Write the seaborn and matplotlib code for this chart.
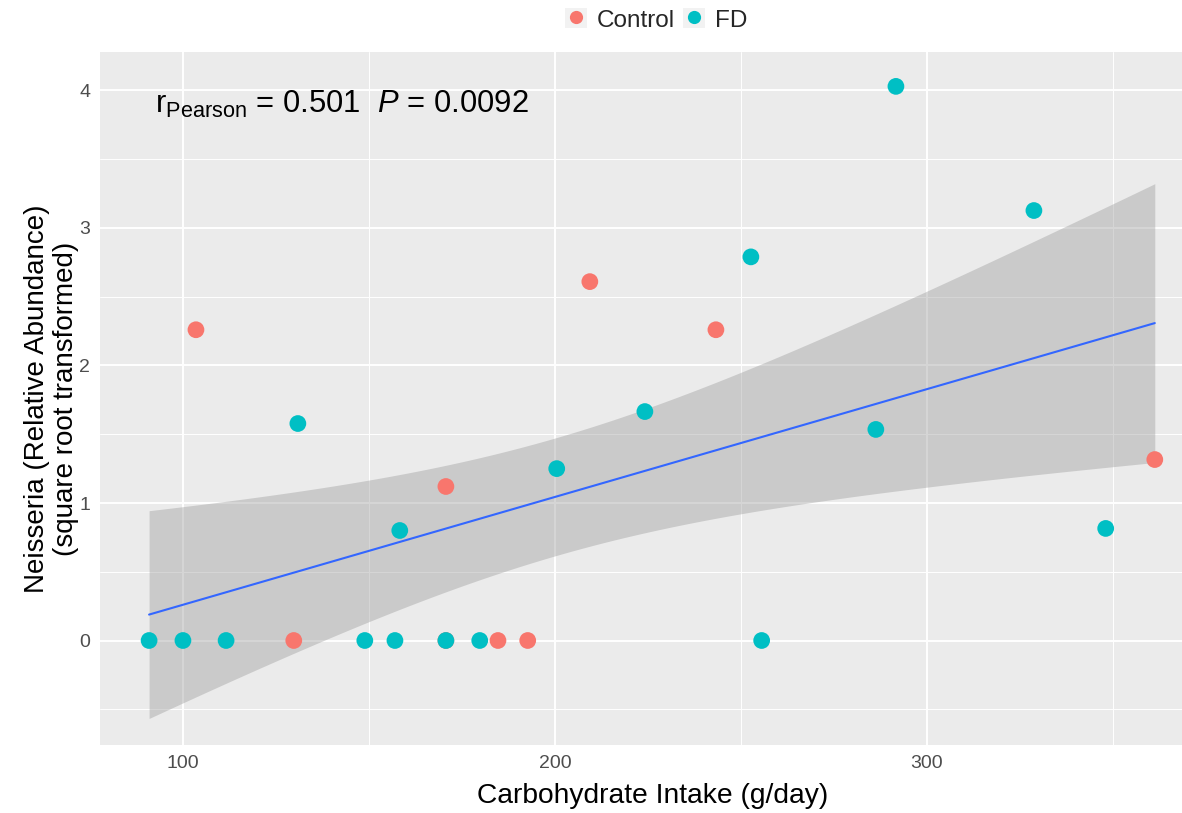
import numpy as np
import pandas as pd
import matplotlib
matplotlib.use("Agg")
import matplotlib.pyplot as plt
import seaborn as sns
from matplotlib.ticker import MultipleLocator
from matplotlib.patches import Rectangle
from matplotlib.lines import Line2D
from matplotlib.legend_handler import HandlerTuple

# Carbohydrate intake (g/day) vs Neisseria abundance (sqrt-transformed)
control_carb = [103.5, 129.8, 170.7, 170.7, 184.7, 192.7, 209.4, 243.3, 361.3]
control_neis = [2.26, 0.0, 1.12, 0.0, 0.0, 0.0, 2.61, 2.26, 1.316]
fd_carb = [90.9, 100.0, 111.6, 130.9, 148.9, 157.0, 158.3, 170.7, 179.8,
           200.5, 224.2, 252.7, 255.6, 286.3, 291.7, 328.8, 348.1]
fd_neis = [0.0, 0.0, 0.0, 1.578, 0.0, 0.0, 0.80, 0.0, 0.0,
           1.25, 1.665, 2.79, 0.0, 1.535, 4.03, 3.127, 0.815]
group_names = ["Control", "FD"]
x_ticks = [100, 200, 300]
y_ticks = [0, 1, 2, 3, 4]
stat_label = r"r$_{\mathrm{Pearson}}$ = 0.501  $\mathit{P}$ = 0.0092"

df = pd.DataFrame({
    "carb": control_carb + fd_carb,
    "neis": control_neis + fd_neis,
    "group": [group_names[0]] * len(control_carb) + [group_names[1]] * len(fd_carb),
})
palette = {"Control": "#F8766D", "FD": "#00BFC4"}

sns.set_theme(style="darkgrid")
plt.rcParams["font.family"] = ["Liberation Sans", "DejaVu Sans"]
plt.rcParams["mathtext.fontset"] = "custom"
plt.rcParams["mathtext.rm"] = "Liberation Sans"
plt.rcParams["mathtext.it"] = "Liberation Sans:italic"

fig = plt.figure(figsize=(11.82, 8.13), dpi=100)
# panel runs slightly past the right edge of the canvas
ax = fig.add_axes([100 / 1182, 1 - 745 / 813, (1205 - 100) / 1182, (745 - 52) / 813])
ax.set_facecolor("#EBEBEB")

# Linear fit with 95% confidence band
x = df["carb"].to_numpy()
y = df["neis"].to_numpy()
n = len(x)
slope, intercept = np.polyfit(x, y, 1)
resid = y - (slope * x + intercept)
s = np.sqrt(np.sum(resid ** 2) / (n - 2))
sxx = np.sum((x - x.mean()) ** 2)
t_crit = 2.064  # t(0.975, df=24)
xs = np.linspace(x.min(), x.max(), 200)
fit = slope * xs + intercept
half = t_crit * s * np.sqrt(1 / n + (xs - x.mean()) ** 2 / sxx)
ax.fill_between(xs, fit - half, fit + half, color="#999999", alpha=0.4, lw=0, zorder=1)
sns.lineplot(x=xs, y=fit, color="#3366FF", lw=1.5, ax=ax, zorder=2)

sns.scatterplot(data=df, x="carb", y="neis", hue="group", hue_order=group_names,
                palette=palette, s=145, edgecolor="none", linewidth=0,
                ax=ax, zorder=3, legend=False)

ax.set_xlim(77.7, 374.8)
ax.set_ylim(-0.76, 4.28)
ax.set_xticks(x_ticks)
ax.set_yticks(y_ticks)
ax.xaxis.set_minor_locator(MultipleLocator(50))
ax.yaxis.set_minor_locator(MultipleLocator(0.5))
ax.grid(which="major", color="white", lw=1.4)
ax.grid(which="minor", color="white", lw=0.7)
ax.set_axisbelow(True)
for sp in ax.spines.values():
    sp.set_visible(False)
ax.tick_params(axis="both", which="major", labelsize=14, labelcolor="#4D4D4D",
               length=4, width=1, color="#333333", pad=3)
ax.tick_params(axis="both", which="minor", length=0)

ax.set_xlabel("Carbohydrate Intake (g/day)", fontsize=20.3, color="black", labelpad=8)
ax.set_ylabel("Neisseria (Relative Abundance)\n(square root transformed)",
              fontsize=20, color="black", labelpad=0.5, linespacing=1.15)

ax.text(92.5, 3.9, stat_label, fontsize=22.3, color="black", va="center", ha="left")

# Legend with grey key backgrounds
handles = []
for g in group_names:
    key_bg = Rectangle((0, 0), 1, 1, facecolor="#F2F2F2", edgecolor="none")
    dot = Line2D([], [], marker="o", linestyle="none", markersize=9.5,
                 markerfacecolor=palette[g], markeredgecolor="none")
    handles.append((key_bg, dot))
fig.legend(handles, group_names, loc="center", bbox_to_anchor=(656 / 1182, 1 - 20 / 813),
           bbox_transform=fig.transFigure, ncol=2, frameon=False, fontsize=17.5,
           handler_map={tuple: HandlerTuple(ndivide=1, pad=0)},
           handlelength=0.9, handleheight=0.9, handletextpad=0.4,
           columnspacing=0.37, borderpad=0, borderaxespad=0)

fig.savefig("out.png", dpi=100)
